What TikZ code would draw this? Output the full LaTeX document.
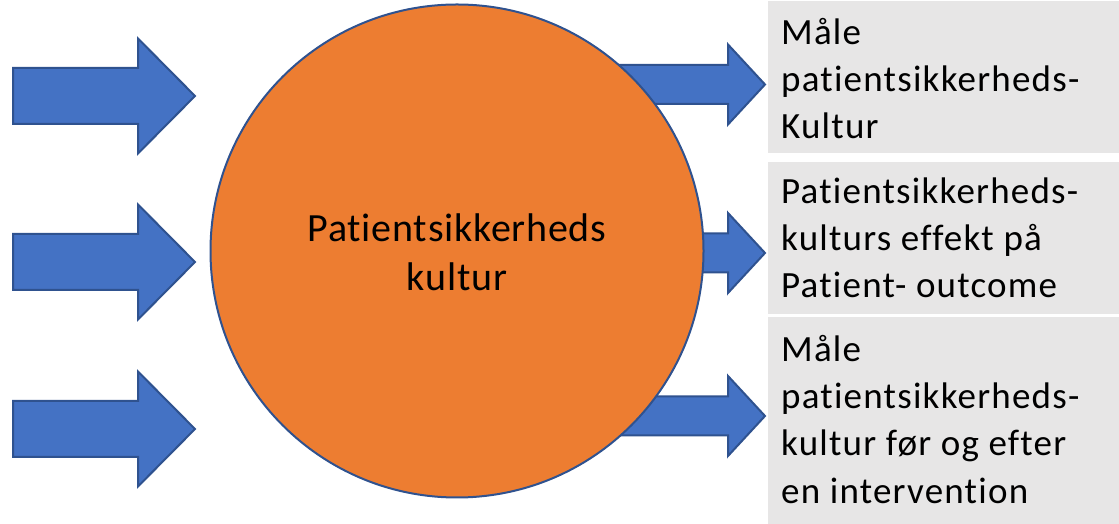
\documentclass[tikz,border=0pt]{standalone}
\usepackage{fontspec}
\setmainfont{Carlito}[Ligatures=NoCommon]
\definecolor{orng}{HTML}{ED7D31}
\definecolor{blu}{HTML}{4472C4}
\definecolor{bluedge}{HTML}{2F528F}
\definecolor{boxgray}{HTML}{E7E6E6}
\begin{document}
\begin{tikzpicture}[x=1pt,y=1pt,
  blockarrow/.style={fill=blu,draw=bluedge,line width=2pt,line join=miter},
  infobox/.style={fill=boxgray,draw=none},
  boxtext/.style={anchor=north west,inner sep=0pt,align=left,font=\fontsize{37}{47.3}\selectfont\addfontfeatures{LetterSpace=3.3}},
  circtext/.style={anchor=north,inner sep=0pt,align=center,font=\fontsize{40}{49}\selectfont\addfontfeatures{LetterSpace=1.9}},
  bigcircle/.style={circle,fill=orng,draw=bluedge,line width=2pt,inner sep=0pt,minimum size=493pt}
]
\useasboundingbox (0,0) rectangle (1119,524);
% right-hand block arrows (under the circle)
\foreach \c in {439.5,271,108}{
  \draw[blockarrow] (600,\c-19.5) -- (728,\c-19.5) -- (728,\c-40) -- (765,\c)
    -- (728,\c+40) -- (728,\c+19.5) -- (600,\c+19.5) -- cycle;
}
% central circle
\node[bigcircle] (circ) at (457,273) {};
\node[circtext] (ctext) at (457,315) {\rule{0pt}{32pt}Patientsikkerheds\\kultur};
% left-hand block arrows
\foreach \c in {428,262,95}{
  \draw[blockarrow] (13,\c-28) -- (138,\c-28) -- (138,\c-57.5) -- (195,\c)
    -- (138,\c+57.5) -- (138,\c+28) -- (13,\c+28) -- cycle;
}
% boxes
\path[infobox] (768,523) rectangle (1119,371);
\path[infobox] (768,362) rectangle (1119,210);
\path[infobox] (768,207) rectangle (1119,0);
\node[boxtext] (t1) at (781,510) {\rule{0pt}{30pt}Måle\\patientsikkerheds-\\Kultur};
\node[boxtext] (t2) at (781,351) {\rule{0pt}{30pt}Patientsikkerheds-\\kulturs effekt på\\Patient- outcome};
\node[boxtext] (t3) at (781,193) {\rule{0pt}{30pt}Måle\\patientsikkerheds-\\kultur før og efter\\en intervention};
\end{tikzpicture}
\end{document}
